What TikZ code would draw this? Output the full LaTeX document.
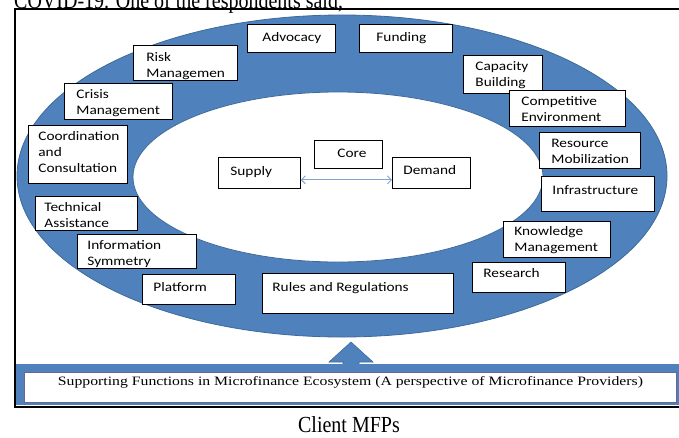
\documentclass[tikz,border=0pt]{standalone}
\usepackage{fontspec}
\setmainfont{Liberation Serif}
\newfontfamily\boxfont[FakeStretch=1.18]{Carlito}
\usetikzlibrary{arrows.meta,calc}
\definecolor{ringblue}{HTML}{4F81BD}
\definecolor{ringedge}{HTML}{3E6A9A}
\definecolor{arrowblue}{HTML}{7EA6D0}
\newcommand\mfbox[8]{%
  \pgfmathsetmacro\mfw{#4-#2}\pgfmathsetmacro\mfh{#5-#3}%
  \node[box] (#1) at (#2,#3) {\parbox[t][\mfh pt][t]{\mfw pt}{\leftskip=#6pt\relax\leavevmode\rule{0pt}{#7pt}#8}};}
\begin{document}
\begin{tikzpicture}[x=1pt,y=-1pt,
  box/.style={draw=black, line width=0.8pt, fill=white, inner sep=0pt, anchor=north west,
    font={\boxfont\fontsize{13}{16}\selectfont}}]
\useasboundingbox (0,0) rectangle (679,437);
\begin{scope}
\clip (0,0) rectangle (679,437);
\node[anchor=base west, inner sep=0pt, font={\fontsize{20}{20}\selectfont}] (toptext) at (14,8) {\scalebox{1}[1.15]{COVID-19. One of the respondents said,}};
\end{scope}
% frame
\draw[line width=2pt] (679,9) -- (15,9) -- (15,407) -- (679,407);
% rings
\fill[ringblue, draw=ringedge, line width=0.8pt] (342,176) ellipse [x radius=325pt, y radius=161pt];
\draw[fill=white, draw=ringedge, line width=0.8pt] (338,177) ellipse [x radius=205pt, y radius=85pt];
% boxes
\mfbox{adv}{247}{24}{335}{52}{15}{17}{Advocacy}
\mfbox{fund}{359}{24}{452}{52}{17}{17}{Funding}
\mfbox{risk}{133}{45}{237}{80}{13}{16}{Risk\\Managemen}
\mfbox{cap}{463}{55}{542}{93}{12}{15}{Capacity\\Building}
\mfbox{crisis}{64}{83}{172}{119}{12}{15}{Crisis\\Management}
\mfbox{comp}{509}{90}{625}{126}{12}{15}{Competitive\\Environment}
\mfbox{coord}{28}{125}{127}{183}{10}{15}{Coordination\\and\\Consultation}
\mfbox{res}{539}{132}{640}{168}{12}{15}{Resource\\Mobilization}
\mfbox{core}{314}{140}{382}{168}{23}{17}{Core}
\mfbox{supply}{218}{157}{300}{188}{12}{18}{Supply}
\mfbox{demand}{392}{157}{470}{188}{11}{17}{Demand}
\mfbox{infra}{541}{176}{654}{211}{11}{18}{Infrastructure}
\mfbox{tech}{35}{196}{137}{230}{9}{15}{Technical\\Assistance}
\mfbox{know}{503}{221}{610}{257}{11}{14}{Knowledge\\Management}
\mfbox{info}{77}{234}{196}{268}{10}{15}{Information\\Symmetry}
\mfbox{research}{472}{262}{565}{292}{11}{15}{Research}
\mfbox{plat}{142}{274}{235}{304}{11}{17}{Platform}
\mfbox{rules}{262}{273}{453}{313}{10}{18}{Rules and Regulations}
% supply-demand arrow
\draw[arrowblue, line width=0.9pt, {Straight Barb[length=4pt,width=8pt]}-{Straight Barb[length=4pt,width=8pt]}]
  ($(supply.south east)+(0,-9)$) -- ($(demand.south west)+(0,-9)$);
% block arrow
\fill[ringblue, draw=ringedge, line width=0.6pt] (351,342) -- (373,362) -- (359,362) -- (359,366) -- (343,366) -- (343,362) -- (329,362) -- cycle;
% bottom bar
\fill[ringblue] (16,364) rectangle (679,405);
\node[draw=gray!80!blue, line width=1pt, fill=white, inner sep=0pt, anchor=north west] (sf) at (24,372)
  {\parbox[t][30pt][t]{652pt}{\centering\leavevmode\rule{0pt}{13pt}\resizebox{585pt}{9pt}{\fontsize{11}{11}\selectfont Supporting Functions in Microfinance Ecosystem (A perspective of Microfinance Providers)}}};
\draw[line width=2pt] (15,407) -- (679,407);
% caption
\node[anchor=base, inner sep=0pt, font={\fontsize{20}{20}\selectfont}] (client) at (349,432) {\scalebox{1}[1.15]{Client MFPs}};
\end{tikzpicture}
\end{document}
